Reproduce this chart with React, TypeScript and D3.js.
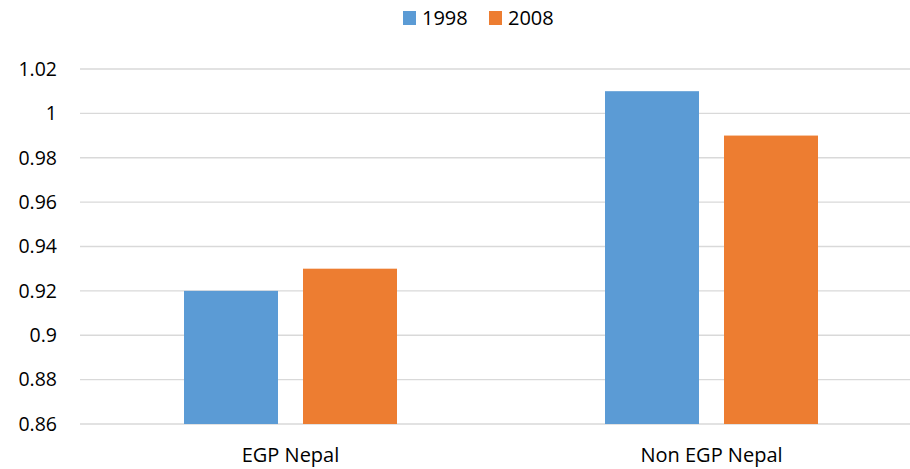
import React from "react";
import * as d3 from "d3";

const categories = ["EGP Nepal", "Non EGP Nepal"];
const seriesNames = ["1998", "2008"];
const values1998 = [0.92, 1.01];
const values2008 = [0.93, 0.99];
const yTicks = [0.86, 0.88, 0.9, 0.92, 0.94, 0.96, 0.98, 1, 1.02];
const colors = ["#5B9BD5", "#ED7D31"];

const W = 910;
const H = 469;
const FONT = "'Open Sans', 'Liberation Sans', sans-serif";

export default function App() {
  const left = 80;
  const right = 922;
  const top = 69;
  const bottom = 424;
  const groupWidth = 213;

  const x = d3.scaleBand<string>().domain(categories).range([left, right]);
  const y = d3.scaleLinear().domain([0.86, 1.02]).range([bottom, top]);
  const inner = d3.scaleBand<string>().domain(seriesNames).range([0, groupWidth]).paddingInner(25 / 119);
  const groupOffset = (x.bandwidth() - groupWidth) / 2;
  const series = [values1998, values2008];

  return (
    <svg width={W} height={H} style={{ position: "absolute", left: 0, top: 0 }} fontFamily={FONT}>
      <rect width={W} height={H} fill="#fff" />
      {yTicks.map((t) => (
        <g key={t}>
          <line x1={left} x2={W} y1={y(t)} y2={y(t)} stroke="#D9D9D9" strokeWidth={1.3} />
          <text x={57} y={y(t)} dy="0.35em" textAnchor="end" fontSize={19.5} fill="#000">
            {d3.format("")(t)}
          </text>
        </g>
      ))}
      {categories.map((c, i) =>
        seriesNames.map((s, j) => {
          const v = series[j][i];
          const bx = (x(c) as number) + groupOffset + (inner(s) as number);
          return (
            <rect
              key={c + s}
              x={bx}
              y={y(v)}
              width={inner.bandwidth()}
              height={y(0.86) - y(v)}
              fill={colors[j]}
            />
          );
        })
      )}
      {categories.map((c) => (
        <text
          key={c}
          x={(x(c) as number) + x.bandwidth() / 2}
          y={462}
          textAnchor="middle"
          fontSize={20}
          fill="#000"
        >
          {c}
        </text>
      ))}
      {seriesNames.map((s, j) => {
        const lx = 403 + j * 86;
        return (
          <g key={s}>
            <rect x={lx} y={11} width={13} height={14} fill={colors[j]} />
            <text x={lx + 19} y={25} fontSize={20} fill="#000">
              {s}
            </text>
          </g>
        );
      })}
    </svg>
  );
}
